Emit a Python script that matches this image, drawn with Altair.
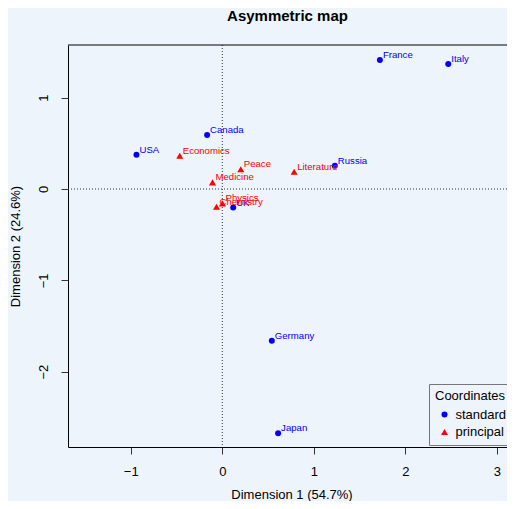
import altair as alt
import pandas as pd

# Standard coordinates (rows: countries)
std_names = ["France", "Italy", "Canada", "USA", "Russia", "UK", "Germany", "Japan"]
std_x = [1.722, 2.469, -0.166, -0.938, 1.230, 0.119, 0.541, 0.610]
std_y = [1.412, 1.369, 0.591, 0.376, 0.255, -0.203, -1.661, -2.675]

# Principal coordinates (columns: prizes)
pr_names = ["Economics", "Peace", "Medicine", "Literature", "Physics", "Chemistry"]
pr_x = [-0.465, 0.202, -0.107, 0.785, 0.002, -0.063]
pr_y = [0.365, 0.216, 0.073, 0.189, -0.157, -0.194]

x_ticks = [-1, 0, 1, 2, 3]
y_ticks = [-2, -1, 0, 1]
x_domain = [-1.686, 3.111]
y_domain = [-2.825, 1.577]

BG = "#eef4fc"
FONT = "Liberation Sans"
W, H = 439, 402

df = pd.DataFrame({
    "name": std_names + pr_names,
    "x": std_x + pr_x,
    "y": std_y + pr_y,
    "type": ["standard"] * len(std_names) + ["principal"] * len(pr_names),
})

xs = alt.Scale(domain=x_domain, nice=False, zero=False)
ys = alt.Scale(domain=y_domain, nice=False, zero=False)

x_axis = alt.Axis(
    values=x_ticks, grid=False, title="Dimension 1 (54.7%)", format="d",
    domainColor="black", domainWidth=1, tickColor="#333", tickSize=7,
    labelFontSize=13, labelColor="black", labelFont=FONT,
    labelBaseline="middle", labelPadding=17,
    labelExpr="replace(datum.label, '-', '\u2212')",
    titleFontSize=13, titleFontWeight="normal", titleColor="black", titleFont=FONT,
    titleX=223.5, titleY=47, titleAlign="center", titleBaseline="middle",
)
y_axis = alt.Axis(
    values=y_ticks, grid=False, title="Dimension 2 (24.6%)", format="d",
    domainColor="black", domainWidth=1, tickColor="#333", tickSize=7,
    labelFontSize=13, labelColor="black", labelFont=FONT,
    labelAngle=270, labelAlign="center", labelBaseline="middle", labelPadding=18,
    labelExpr="replace(datum.label, '-', '\u2212')",
    titleFontSize=13, titleFontWeight="normal", titleColor="black", titleFont=FONT,
    titleX=-53, titleY=H / 2, titleAngle=270, titleAlign="center", titleBaseline="middle",
)

leg = alt.Legend(
    title="Coordinates", orient="none", legendX=361, legendY=339,
    padding=6, strokeColor="#777", fillColor=BG, cornerRadius=0,
    titleFontSize=13, titleFontWeight="normal", titleColor="black", titleFont=FONT,
    titlePadding=5, labelFontSize=13, labelColor="black", labelFont=FONT,
    symbolSize=36, symbolOffset=3, labelOffset=4.5, rowPadding=3.5,
    symbolStrokeWidth=0,
)

base = alt.Chart(df)

vline = alt.Chart(alt.Data(values=[{}])).mark_rule(
    color="#333", strokeDash=[1, 2], strokeWidth=1
).encode(x=alt.datum(0, scale=xs, axis=x_axis))
hline = alt.Chart(alt.Data(values=[{}])).mark_rule(
    color="#333", strokeDash=[1, 2], strokeWidth=1
).encode(y=alt.datum(0, scale=ys, axis=y_axis))

top_rule = alt.Chart(alt.Data(values=[{}])).mark_rule(
    color="black", strokeWidth=1
).encode(x=alt.value(0), x2=alt.value(W), y=alt.value(0))

points = base.mark_point(filled=True, opacity=1).encode(
    x=alt.X("x:Q", scale=xs, axis=x_axis),
    y=alt.Y("y:Q", scale=ys, axis=y_axis),
    color=alt.Color("type:N", scale=alt.Scale(domain=["standard", "principal"],
                                                range=["#0000ff", "#ff0000"]), legend=leg),
    shape=alt.Shape("type:N", scale=alt.Scale(domain=["standard", "principal"],
                                                range=["circle", "triangle-up"]), legend=leg),
    size=alt.Size("type:N", scale=alt.Scale(domain=["standard", "principal"],
                                              range=[36, 49]), legend=None),
)

lab_std = base.transform_filter(alt.datum.type == "standard").mark_text(
    align="left", baseline="alphabetic", dx=3, dy=-2, fontSize=9.6, font=FONT, color="#0000ff"
).encode(x=alt.X("x:Q", scale=xs), y=alt.Y("y:Q", scale=ys), text="name:N")

lab_pr = base.transform_filter(alt.datum.type == "principal").mark_text(
    align="left", baseline="alphabetic", dx=3, dy=-2, fontSize=9.6, font=FONT, color="#ff0000"
).encode(x=alt.X("x:Q", scale=xs), y=alt.Y("y:Q", scale=ys), text="name:N")

chart = alt.layer(vline, hline, top_rule, points, lab_std, lab_pr).properties(
    width=W, height=H,
    title=alt.TitleParams("Asymmetric map", fontSize=15, fontWeight="bold", font=FONT,
                          color="black", anchor="middle", frame="group", offset=21),
    autosize=alt.AutoSizeParams(type="none"),
    padding={"left": 60, "top": 37, "right": 0, "bottom": 54},
    background=BG,
).configure_view(stroke=None)

chart.save("out.html", embed_options={"renderer": "svg", "actions": False})
